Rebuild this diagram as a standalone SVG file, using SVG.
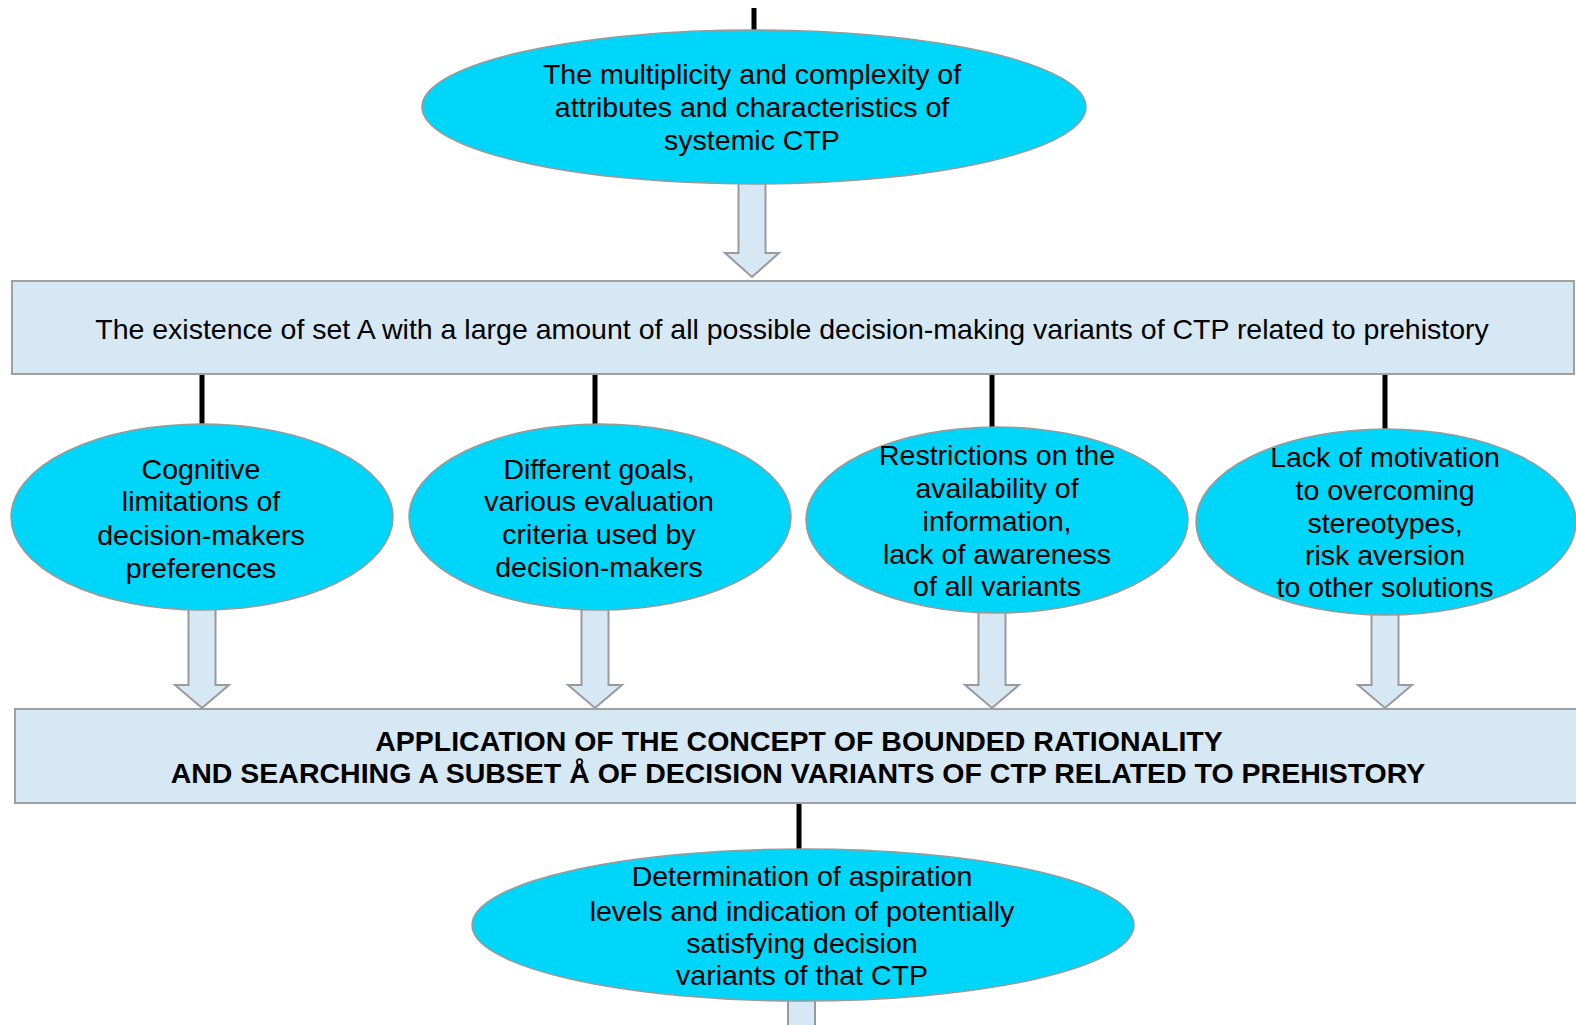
<svg xmlns="http://www.w3.org/2000/svg" width="1576" height="1025" viewBox="0 0 1576 1025">
  <defs>
    <style>
      .oval { fill: #00D6F9; stroke: #9A9A9A; stroke-width: 1.5; }
      .box { fill: #D6E8F4; stroke: #A0A0A0; stroke-width: 2; }
      .link { stroke: #000; stroke-width: 5; fill: none; }
      .flow { fill: #D6E8F4; stroke: #9A9A9A; stroke-width: 2; stroke-linejoin: miter; }
      text { font-family: "Liberation Sans", Arial, sans-serif; font-size: 28.5px; fill: #000; text-anchor: middle; }
      .bold { font-weight: bold; font-size: 28.5px; }
    </style>
  </defs>

  <!-- connectors: black links and hollow block arrows -->
  <g id="connectors">
    <line class="link" x1="754" y1="8" x2="754" y2="32"/>
    <polygon class="flow" points="738.5,175 765.5,175 765.5,253 779,253 752,277 725,253 738.5,253"/>
    <line class="link" x1="202" y1="374" x2="202" y2="426"/>
    <line class="link" x1="595" y1="374" x2="595" y2="426"/>
    <line class="link" x1="992" y1="374" x2="992" y2="428"/>
    <line class="link" x1="1385" y1="374" x2="1385" y2="430"/>
    <polygon class="flow" points="188.5,600 215.5,600 215.5,685 229,685 202,708 175,685 188.5,685"/>
    <polygon class="flow" points="581.5,600 608.5,600 608.5,685 622,685 595,708 568,685 581.5,685"/>
    <polygon class="flow" points="978.5,600 1005.5,600 1005.5,685 1019,685 992,708 965,685 978.5,685"/>
    <polygon class="flow" points="1371.5,600 1398.5,600 1398.5,685 1412,685 1385,708 1358,685 1371.5,685"/>
    <line class="link" x1="799" y1="803" x2="799" y2="851"/>
    <polygon class="flow" points="788,995 815,995 815,1030 788,1030"/>
  </g>

  <g id="node-multiplicity">
    <ellipse class="oval" cx="754" cy="107" rx="332" ry="77"/>
    <text x="752" y="84">The multiplicity and complexity of</text>
    <text x="752" y="117">attributes and characteristics of</text>
    <text x="752" y="150">systemic CTP</text>
  </g>

  <g id="node-set-a">
    <rect class="box" x="12" y="281" width="1562" height="93"/>
    <text x="792" y="339">The existence of set A with a large amount of all possible decision-making variants of CTP related to prehistory</text>
  </g>

  <g id="node-cognitive">
    <ellipse class="oval" cx="202" cy="517" rx="191" ry="93"/>
    <text x="201" y="479">Cognitive</text>
    <text x="201" y="511">limitations of</text>
    <text x="201" y="545">decision-makers</text>
    <text x="201" y="578">preferences</text>
  </g>

  <g id="node-goals">
    <ellipse class="oval" cx="600" cy="517" rx="191" ry="93"/>
    <text x="599" y="479">Different goals,</text>
    <text x="599" y="511">various evaluation</text>
    <text x="599" y="544">criteria used by</text>
    <text x="599" y="577">decision-makers</text>
  </g>

  <g id="node-restrictions">
    <ellipse class="oval" cx="997" cy="520" rx="191" ry="93"/>
    <text x="997" y="465">Restrictions on the</text>
    <text x="997" y="498">availability of</text>
    <text x="997" y="531">information,</text>
    <text x="997" y="564">lack of awareness</text>
    <text x="997" y="596">of all variants</text>
  </g>

  <g id="node-motivation">
    <ellipse class="oval" cx="1386" cy="522" rx="190" ry="93"/>
    <text x="1385" y="467">Lack of motivation</text>
    <text x="1385" y="500">to overcoming</text>
    <text x="1385" y="533">stereotypes,</text>
    <text x="1385" y="565">risk aversion</text>
    <text x="1385" y="597">to other solutions</text>
  </g>

  <g id="node-bounded-rationality">
    <rect class="box" x="15" y="709" width="1565" height="94"/>
    <text class="bold" x="799" y="751">APPLICATION OF THE CONCEPT OF BOUNDED RATIONALITY</text>
    <text class="bold" x="798" y="783">AND SEARCHING A SUBSET Å OF DECISION VARIANTS OF CTP RELATED TO PREHISTORY</text>
  </g>

  <g id="node-aspiration">
    <ellipse class="oval" cx="803" cy="925" rx="331" ry="76"/>
    <text x="802" y="886">Determination of aspiration</text>
    <text x="802" y="921">levels and indication of potentially</text>
    <text x="802" y="953">satisfying decision</text>
    <text x="802" y="985">variants of that CTP</text>
  </g>
</svg>
